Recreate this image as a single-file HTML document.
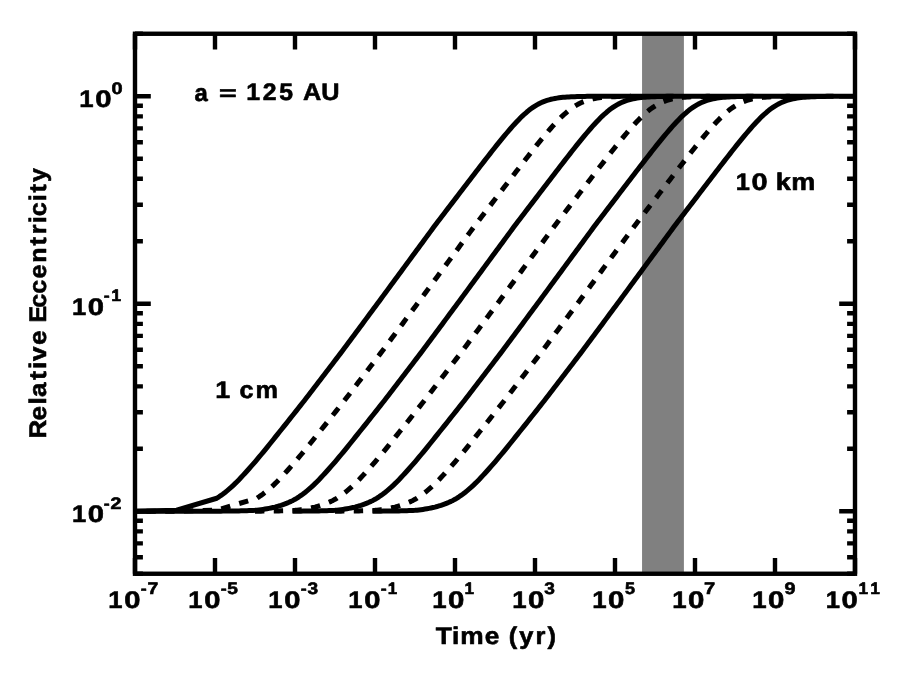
<!DOCTYPE html>
<html><head><meta charset="utf-8"><title>Relative Eccentricity vs Time</title>
<style>
html,body{margin:0;padding:0;background:#fff;}
body{width:900px;height:675px;overflow:hidden;font-family:"Liberation Sans",sans-serif;}
svg{display:block;position:absolute;left:0;top:0;will-change:transform;}
svg text{font-family:"Liberation Sans",sans-serif;font-weight:bold;fill:#000;stroke:#000;stroke-width:0.60px;stroke-linejoin:round;text-rendering:geometricPrecision;}
</style></head><body>
<svg width="900" height="675" viewBox="0 0 900 675" role="img" aria-label="Relative eccentricity versus time at a = 125 AU for particle sizes 1 cm to 10 km">
<rect x="0" y="0" width="900" height="675" fill="#fff"/>
<rect x="642.05" y="33.75" width="41.85" height="540.00" fill="#808080"/>
<defs><clipPath id="ax"><rect x="135.00" y="33.75" width="720.00" height="540.00"/></clipPath></defs>
<g fill="none" stroke="#000" stroke-width="5.00" stroke-linejoin="round" clip-path="url(#ax)">
<path d="M135.00 511.18 L176.66 510.19 L216.81 498.23 L219.00 496.81 L221.00 495.43 L223.00 493.97 L225.00 492.44 L227.00 490.83 L229.00 489.15 L231.00 487.40 L233.00 485.57 L235.00 483.66 L237.00 481.69 L239.00 479.66 L241.00 477.57 L243.00 475.42 L245.00 473.22 L247.00 470.98 L249.02 468.73 L251.06 466.44 L253.09 464.12 L255.12 461.76 L257.16 459.38 L259.19 456.96 L261.23 454.52 L263.26 452.06 L265.29 449.57 L267.33 447.07 L269.37 444.55 L271.40 442.01 L273.44 439.46 L275.47 436.89 L277.52 434.33 L279.57 431.78 L281.63 429.22 L283.69 426.65 L285.75 424.08 L287.81 421.49 L289.87 418.91 L291.93 416.31 L293.99 413.72 L296.05 411.12 L298.11 408.51 L300.17 405.90 L302.22 403.29 L304.28 400.68 L306.31 398.06 L308.32 395.44 L310.33 392.82 L312.34 390.20 L314.35 387.57 L316.36 384.95 L318.37 382.32 L320.38 379.69 L322.39 377.06 L324.40 374.44 L326.41 371.80 L328.42 369.17 L330.43 366.54 L332.44 363.91 L334.45 361.28 L336.47 358.64 L338.48 356.01 L340.49 353.38 L342.50 350.74 L344.47 348.11 L346.42 345.47 L348.37 342.84 L350.32 340.20 L352.28 337.57 L354.23 334.93 L356.18 332.30 L358.13 329.66 L360.09 327.03 L362.04 324.39 L363.99 321.75 L365.94 319.12 L367.90 316.48 L369.85 313.85 L371.80 311.21 L373.75 308.57 L375.71 305.94 L377.66 303.30 L379.61 300.67 L381.56 298.03 L383.50 295.39 L385.44 292.76 L387.38 290.12 L389.32 287.48 L391.26 284.85 L393.20 282.21 L395.14 279.57 L397.08 276.94 L399.02 274.30 L400.96 271.66 L402.90 269.03 L404.84 266.39 L406.78 263.75 L408.72 261.12 L410.66 258.48 L412.60 255.84 L414.54 253.21 L416.48 250.57 L418.42 247.93 L420.36 245.30 L422.30 242.66 L424.24 240.03 L426.18 237.39 L428.12 234.75 L430.06 232.12 L432.00 229.48 L433.94 226.84 L435.90 224.21 L437.92 221.57 L439.93 218.94 L441.95 216.30 L443.96 213.66 L445.97 211.03 L447.99 208.39 L450.00 205.76 L452.02 203.12 L454.03 200.49 L456.04 197.86 L458.06 195.22 L460.07 192.59 L462.09 189.96 L464.10 187.33 L466.11 184.70 L468.13 182.07 L470.14 179.44 L472.16 176.82 L474.17 174.19 L476.18 171.57 L478.20 168.95 L480.21 166.34 L482.23 163.73 L484.24 161.13 L486.25 158.53 L488.27 155.94 L490.28 153.35 L492.30 150.78 L494.33 148.22 L496.36 145.67 L498.40 143.14 L500.44 140.63 L502.47 138.15 L504.51 135.69 L506.55 133.26 L508.58 130.86 L510.62 128.51 L512.65 126.21 L514.68 123.96 L516.72 121.77 L518.75 119.65 L520.78 117.61 L522.80 115.65 L524.83 113.78 L526.85 112.01 L528.87 110.35 L530.89 108.80 L532.91 107.36 L534.92 106.04 L536.94 104.83 L538.95 103.74 L540.97 102.75 L542.98 101.88 L544.99 101.10 L546.99 100.41 L549.00 99.81 L551.00 99.29 L553.00 98.84 L555.00 98.44 L557.00 98.11 L559.00 97.82 L561.00 97.57 L563.00 97.36 L565.00 97.19 L567.00 97.04 L569.00 96.91 L571.00 96.80 L573.00 96.71 L575.00 96.63 L577.00 96.57 L579.00 96.51 L581.00 96.46 L583.00 96.43 L585.00 96.39 L587.00 96.37 L589.00 96.34 L591.00 96.32 L593.00 96.31 L595.00 96.29 L597.00 96.28 L599.00 96.27 L601.00 96.26 L603.00 96.26 L605.00 96.25 L607.00 96.25 L609.00 96.24 L611.00 96.24 L613.00 96.24 L615.00 96.23 L617.00 96.23 L619.00 96.23 L621.00 96.23 L623.00 96.23 L625.00 96.23 L627.00 96.23 L629.00 96.23 L631.00 96.23 L633.00 96.22 L635.00 96.22 L637.00 96.22 L639.00 96.22 L641.00 96.22 L643.00 96.22 L645.00 96.22 L647.00 96.22 L649.00 96.22 L651.00 96.22 L653.00 96.22 L655.00 96.22 L657.00 96.22 L659.00 96.22 L661.00 96.22 L663.00 96.22 L665.00 96.22 L667.00 96.22 L669.00 96.22 L671.00 96.22 L673.00 96.22 L675.00 96.22 L677.00 96.22 L679.00 96.22 L681.00 96.22 L683.00 96.22 L685.00 96.22 L687.00 96.22 L689.00 96.22 L691.00 96.22 L693.00 96.22 L695.00 96.22 L697.00 96.22 L699.00 96.22 L701.00 96.22 L703.00 96.22 L705.00 96.22 L707.00 96.22 L709.00 96.22 L711.00 96.22 L713.00 96.22 L715.00 96.22 L717.00 96.22 L719.00 96.22 L721.00 96.22 L723.00 96.22 L725.00 96.22 L727.00 96.22 L729.00 96.22 L731.00 96.22 L733.00 96.22 L735.00 96.22 L737.00 96.22 L739.00 96.22 L741.00 96.22 L743.00 96.22 L745.00 96.22 L747.00 96.22 L749.00 96.22 L751.00 96.22 L753.00 96.22 L755.00 96.22 L757.00 96.22 L759.00 96.22 L761.00 96.22 L763.00 96.22 L765.00 96.22 L767.00 96.22 L769.00 96.22 L771.00 96.22 L773.00 96.22 L775.00 96.22 L777.00 96.22 L779.00 96.22 L781.00 96.22 L783.00 96.22 L785.00 96.22 L787.00 96.22 L789.00 96.22 L791.00 96.22 L793.00 96.22 L795.00 96.22 L797.00 96.22 L799.00 96.22 L801.00 96.22 L803.00 96.22 L805.00 96.22 L807.00 96.22 L809.00 96.22 L811.00 96.22 L813.00 96.22 L815.00 96.22 L817.00 96.22 L819.00 96.22 L821.00 96.22 L823.00 96.22 L825.00 96.22 L827.00 96.22 L829.00 96.22 L831.00 96.22 L833.00 96.22 L835.00 96.22 L837.00 96.22 L839.00 96.22 L841.00 96.22 L843.00 96.22 L845.00 96.22 L847.00 96.22 L849.00 96.22 L851.00 96.22 L853.00 96.22 L855.00 96.22" stroke-linecap="square"/>
<path d="M135.00 511.27 L176.66 511.17 L216.81 510.17 L256.83 498.22 L259.00 496.81 L261.00 495.43 L263.00 493.97 L265.00 492.44 L267.00 490.83 L269.00 489.15 L271.00 487.40 L273.00 485.57 L275.00 483.66 L277.00 481.69 L279.00 479.66 L281.00 477.57 L283.00 475.42 L285.00 473.22 L287.00 470.98 L289.02 468.73 L291.06 466.44 L293.09 464.12 L295.12 461.76 L297.16 459.38 L299.19 456.96 L301.23 454.52 L303.26 452.06 L305.29 449.57 L307.33 447.07 L309.37 444.55 L311.40 442.01 L313.44 439.46 L315.47 436.89 L317.52 434.33 L319.57 431.78 L321.63 429.22 L323.69 426.65 L325.75 424.08 L327.81 421.49 L329.87 418.91 L331.93 416.31 L333.99 413.72 L336.05 411.12 L338.11 408.51 L340.17 405.90 L342.22 403.29 L344.28 400.68 L346.31 398.06 L348.32 395.44 L350.33 392.82 L352.34 390.20 L354.35 387.57 L356.36 384.95 L358.37 382.32 L360.38 379.69 L362.39 377.06 L364.40 374.44 L366.41 371.80 L368.42 369.17 L370.43 366.54 L372.44 363.91 L374.45 361.28 L376.47 358.64 L378.48 356.01 L380.49 353.38 L382.50 350.74 L384.47 348.11 L386.42 345.47 L388.37 342.84 L390.32 340.20 L392.28 337.57 L394.23 334.93 L396.18 332.30 L398.13 329.66 L400.09 327.03 L402.04 324.39 L403.99 321.75 L405.94 319.12 L407.90 316.48 L409.85 313.85 L411.80 311.21 L413.75 308.57 L415.71 305.94 L417.66 303.30 L419.61 300.67 L421.56 298.03 L423.50 295.39 L425.44 292.76 L427.38 290.12 L429.32 287.48 L431.26 284.85 L433.20 282.21 L435.14 279.57 L437.08 276.94 L439.02 274.30 L440.96 271.66 L442.90 269.03 L444.84 266.39 L446.78 263.75 L448.72 261.12 L450.66 258.48 L452.60 255.84 L454.54 253.21 L456.48 250.57 L458.42 247.93 L460.36 245.30 L462.30 242.66 L464.24 240.03 L466.18 237.39 L468.12 234.75 L470.06 232.12 L472.00 229.48 L473.94 226.84 L475.90 224.21 L477.92 221.57 L479.93 218.94 L481.95 216.30 L483.96 213.66 L485.97 211.03 L487.99 208.39 L490.00 205.76 L492.02 203.12 L494.03 200.49 L496.04 197.86 L498.06 195.22 L500.07 192.59 L502.09 189.96 L504.10 187.33 L506.11 184.70 L508.13 182.07 L510.14 179.44 L512.16 176.82 L514.17 174.19 L516.18 171.57 L518.20 168.95 L520.21 166.34 L522.23 163.73 L524.24 161.13 L526.25 158.53 L528.27 155.94 L530.28 153.35 L532.30 150.78 L534.33 148.22 L536.36 145.67 L538.40 143.14 L540.44 140.63 L542.47 138.15 L544.51 135.69 L546.55 133.26 L548.58 130.86 L550.62 128.51 L552.65 126.21 L554.68 123.96 L556.72 121.77 L558.75 119.65 L560.78 117.61 L562.80 115.65 L564.83 113.78 L566.85 112.01 L568.87 110.35 L570.89 108.80 L572.91 107.36 L574.92 106.04 L576.94 104.83 L578.95 103.74 L580.97 102.75 L582.98 101.88 L584.99 101.10 L586.99 100.41 L589.00 99.81 L591.00 99.29 L593.00 98.84 L595.00 98.44 L597.00 98.11 L599.00 97.82 L601.00 97.57 L603.00 97.36 L605.00 97.19 L607.00 97.04 L609.00 96.91 L611.00 96.80 L613.00 96.71 L615.00 96.63 L617.00 96.57 L619.00 96.51 L621.00 96.46 L623.00 96.43 L625.00 96.39 L627.00 96.37 L629.00 96.34 L631.00 96.32" stroke-dasharray="9.375 9.375" stroke-dashoffset="7.30" stroke-linecap="butt"/>
<path d="M135.00 511.28 L176.66 511.27 L216.81 511.17 L219.00 511.16 L221.00 511.14 L223.00 511.12 L225.00 511.10 L227.00 511.08 L229.00 511.06 L231.00 511.03 L233.00 511.00 L235.00 510.97 L237.00 510.93 L239.00 510.89 L241.00 510.85 L243.00 510.79 L245.00 510.74 L247.00 510.67 L249.00 510.60 L251.00 510.52 L253.00 510.43 L255.00 510.33 L257.00 510.15 L259.00 509.92 L261.00 509.67 L263.00 509.40 L265.00 509.09 L267.00 508.75 L269.00 508.39 L271.00 507.99 L273.00 507.55 L275.00 507.07 L277.00 506.54 L279.00 505.96 L281.00 505.34 L283.00 504.67 L285.00 503.94 L287.00 503.15 L289.00 502.29 L291.00 501.37 L293.00 500.39 L295.00 499.33 L297.00 498.11 L299.00 496.81 L301.00 495.43 L303.00 493.97 L305.00 492.44 L307.00 490.83 L309.00 489.15 L311.00 487.40 L313.00 485.57 L315.00 483.66 L317.00 481.69 L319.00 479.66 L321.00 477.57 L323.00 475.42 L325.00 473.22 L327.00 470.98 L329.02 468.73 L331.06 466.44 L333.09 464.12 L335.12 461.76 L337.16 459.38 L339.19 456.96 L341.23 454.52 L343.26 452.06 L345.29 449.57 L347.33 447.07 L349.37 444.55 L351.40 442.01 L353.44 439.46 L355.47 436.89 L357.52 434.33 L359.57 431.78 L361.63 429.22 L363.69 426.65 L365.75 424.08 L367.81 421.49 L369.87 418.91 L371.93 416.31 L373.99 413.72 L376.05 411.12 L378.11 408.51 L380.17 405.90 L382.22 403.29 L384.28 400.68 L386.31 398.06 L388.32 395.44 L390.33 392.82 L392.34 390.20 L394.35 387.57 L396.36 384.95 L398.37 382.32 L400.38 379.69 L402.39 377.06 L404.40 374.44 L406.41 371.80 L408.42 369.17 L410.43 366.54 L412.44 363.91 L414.45 361.28 L416.47 358.64 L418.48 356.01 L420.49 353.38 L422.50 350.74 L424.47 348.11 L426.42 345.47 L428.37 342.84 L430.32 340.20 L432.28 337.57 L434.23 334.93 L436.18 332.30 L438.13 329.66 L440.09 327.03 L442.04 324.39 L443.99 321.75 L445.94 319.12 L447.90 316.48 L449.85 313.85 L451.80 311.21 L453.75 308.57 L455.71 305.94 L457.66 303.30 L459.61 300.67 L461.56 298.03 L463.50 295.39 L465.44 292.76 L467.38 290.12 L469.32 287.48 L471.26 284.85 L473.20 282.21 L475.14 279.57 L477.08 276.94 L479.02 274.30 L480.96 271.66 L482.90 269.03 L484.84 266.39 L486.78 263.75 L488.72 261.12 L490.66 258.48 L492.60 255.84 L494.54 253.21 L496.48 250.57 L498.42 247.93 L500.36 245.30 L502.30 242.66 L504.24 240.03 L506.18 237.39 L508.12 234.75 L510.06 232.12 L512.00 229.48 L513.94 226.84 L515.90 224.21 L517.92 221.57 L519.93 218.94 L521.95 216.30 L523.96 213.66 L525.97 211.03 L527.99 208.39 L530.00 205.76 L532.02 203.12 L534.03 200.49 L536.04 197.86 L538.06 195.22 L540.07 192.59 L542.09 189.96 L544.10 187.33 L546.11 184.70 L548.13 182.07 L550.14 179.44 L552.16 176.82 L554.17 174.19 L556.18 171.57 L558.20 168.95 L560.21 166.34 L562.23 163.73 L564.24 161.13 L566.25 158.53 L568.27 155.94 L570.28 153.35 L572.30 150.78 L574.33 148.22 L576.36 145.67 L578.40 143.14 L580.44 140.63 L582.47 138.15 L584.51 135.69 L586.55 133.26 L588.58 130.86 L590.62 128.51 L592.65 126.21 L594.68 123.96 L596.72 121.77 L598.75 119.65 L600.78 117.61 L602.80 115.65 L604.83 113.78 L606.85 112.01 L608.87 110.35 L610.89 108.80 L612.91 107.36 L614.92 106.04 L616.94 104.83 L618.95 103.74 L620.97 102.75 L622.98 101.88 L624.99 101.10 L626.99 100.41 L629.00 99.81 L631.00 99.29 L633.00 98.84 L635.00 98.44 L637.00 98.11 L639.00 97.82 L641.00 97.57 L643.00 97.36 L645.00 97.19 L647.00 97.04 L649.00 96.91 L651.00 96.80 L653.00 96.71 L655.00 96.63 L657.00 96.57 L659.00 96.51 L661.00 96.46 L663.00 96.43 L665.00 96.39 L667.00 96.37 L669.00 96.34 L671.00 96.32" stroke-linecap="square"/>
<path d="M255.00 511.18 L257.00 511.17 L259.00 511.16 L261.00 511.14 L263.00 511.12 L265.00 511.10 L267.00 511.08 L269.00 511.06 L271.00 511.03 L273.00 511.00 L275.00 510.97 L277.00 510.93 L279.00 510.89 L281.00 510.85 L283.00 510.79 L285.00 510.74 L287.00 510.67 L289.00 510.60 L291.00 510.52 L293.00 510.43 L295.00 510.33 L297.00 510.15 L299.00 509.92 L301.00 509.67 L303.00 509.40 L305.00 509.09 L307.00 508.75 L309.00 508.39 L311.00 507.99 L313.00 507.55 L315.00 507.07 L317.00 506.54 L319.00 505.96 L321.00 505.34 L323.00 504.67 L325.00 503.94 L327.00 503.15 L329.00 502.29 L331.00 501.37 L333.00 500.39 L335.00 499.33 L337.00 498.11 L339.00 496.81 L341.00 495.43 L343.00 493.97 L345.00 492.44 L347.00 490.83 L349.00 489.15 L351.00 487.40 L353.00 485.57 L355.00 483.66 L357.00 481.69 L359.00 479.66 L361.00 477.57 L363.00 475.42 L365.00 473.22 L367.00 470.98 L369.02 468.73 L371.06 466.44 L373.09 464.12 L375.12 461.76 L377.16 459.38 L379.19 456.96 L381.23 454.52 L383.26 452.06 L385.29 449.57 L387.33 447.07 L389.37 444.55 L391.40 442.01 L393.44 439.46 L395.47 436.89 L397.52 434.33 L399.57 431.78 L401.63 429.22 L403.69 426.65 L405.75 424.08 L407.81 421.49 L409.87 418.91 L411.93 416.31 L413.99 413.72 L416.05 411.12 L418.11 408.51 L420.17 405.90 L422.22 403.29 L424.28 400.68 L426.31 398.06 L428.32 395.44 L430.33 392.82 L432.34 390.20 L434.35 387.57 L436.36 384.95 L438.37 382.32 L440.38 379.69 L442.39 377.06 L444.40 374.44 L446.41 371.80 L448.42 369.17 L450.43 366.54 L452.44 363.91 L454.45 361.28 L456.47 358.64 L458.48 356.01 L460.49 353.38 L462.50 350.74 L464.47 348.11 L466.42 345.47 L468.37 342.84 L470.32 340.20 L472.28 337.57 L474.23 334.93 L476.18 332.30 L478.13 329.66 L480.09 327.03 L482.04 324.39 L483.99 321.75 L485.94 319.12 L487.90 316.48 L489.85 313.85 L491.80 311.21 L493.75 308.57 L495.71 305.94 L497.66 303.30 L499.61 300.67 L501.56 298.03 L503.50 295.39 L505.44 292.76 L507.38 290.12 L509.32 287.48 L511.26 284.85 L513.20 282.21 L515.14 279.57 L517.08 276.94 L519.02 274.30 L520.96 271.66 L522.90 269.03 L524.84 266.39 L526.78 263.75 L528.72 261.12 L530.66 258.48 L532.60 255.84 L534.54 253.21 L536.48 250.57 L538.42 247.93 L540.36 245.30 L542.30 242.66 L544.24 240.03 L546.18 237.39 L548.12 234.75 L550.06 232.12 L552.00 229.48 L553.94 226.84 L555.90 224.21 L557.92 221.57 L559.93 218.94 L561.95 216.30 L563.96 213.66 L565.97 211.03 L567.99 208.39 L570.00 205.76 L572.02 203.12 L574.03 200.49 L576.04 197.86 L578.06 195.22 L580.07 192.59 L582.09 189.96 L584.10 187.33 L586.11 184.70 L588.13 182.07 L590.14 179.44 L592.16 176.82 L594.17 174.19 L596.18 171.57 L598.20 168.95 L600.21 166.34 L602.23 163.73 L604.24 161.13 L606.25 158.53 L608.27 155.94 L610.28 153.35 L612.30 150.78 L614.33 148.22 L616.36 145.67 L618.40 143.14 L620.44 140.63 L622.47 138.15 L624.51 135.69 L626.55 133.26 L628.58 130.86 L630.62 128.51 L632.65 126.21 L634.68 123.96 L636.72 121.77 L638.75 119.65 L640.78 117.61 L642.80 115.65 L644.83 113.78 L646.85 112.01 L648.87 110.35 L650.89 108.80 L652.91 107.36 L654.92 106.04 L656.94 104.83 L658.95 103.74 L660.97 102.75 L662.98 101.88 L664.99 101.10 L666.99 100.41 L669.00 99.81 L671.00 99.29 L673.00 98.84 L675.00 98.44 L677.00 98.11 L679.00 97.82 L681.00 97.57 L683.00 97.36 L685.00 97.19 L687.00 97.04 L689.00 96.91 L691.00 96.80 L693.00 96.71 L695.00 96.63 L697.00 96.57 L699.00 96.51 L701.00 96.46 L703.00 96.43 L705.00 96.39 L707.00 96.37 L709.00 96.34 L711.00 96.32" stroke-dasharray="9.375 9.375" stroke-dashoffset="0.00" stroke-linecap="butt"/>
<path d="M295.00 511.18 L297.00 511.17 L299.00 511.16 L301.00 511.14 L303.00 511.12 L305.00 511.10 L307.00 511.08 L309.00 511.06 L311.00 511.03 L313.00 511.00 L315.00 510.97 L317.00 510.93 L319.00 510.89 L321.00 510.85 L323.00 510.79 L325.00 510.74 L327.00 510.67 L329.00 510.60 L331.00 510.52 L333.00 510.43 L335.00 510.33 L337.00 510.15 L339.00 509.92 L341.00 509.67 L343.00 509.40 L345.00 509.09 L347.00 508.75 L349.00 508.39 L351.00 507.99 L353.00 507.55 L355.00 507.07 L357.00 506.54 L359.00 505.96 L361.00 505.34 L363.00 504.67 L365.00 503.94 L367.00 503.15 L369.00 502.29 L371.00 501.37 L373.00 500.39 L375.00 499.33 L377.00 498.11 L379.00 496.81 L381.00 495.43 L383.00 493.97 L385.00 492.44 L387.00 490.83 L389.00 489.15 L391.00 487.40 L393.00 485.57 L395.00 483.66 L397.00 481.69 L399.00 479.66 L401.00 477.57 L403.00 475.42 L405.00 473.22 L407.00 470.98 L409.02 468.73 L411.06 466.44 L413.09 464.12 L415.12 461.76 L417.16 459.38 L419.19 456.96 L421.23 454.52 L423.26 452.06 L425.29 449.57 L427.33 447.07 L429.37 444.55 L431.40 442.01 L433.44 439.46 L435.47 436.89 L437.52 434.33 L439.57 431.78 L441.63 429.22 L443.69 426.65 L445.75 424.08 L447.81 421.49 L449.87 418.91 L451.93 416.31 L453.99 413.72 L456.05 411.12 L458.11 408.51 L460.17 405.90 L462.22 403.29 L464.28 400.68 L466.31 398.06 L468.32 395.44 L470.33 392.82 L472.34 390.20 L474.35 387.57 L476.36 384.95 L478.37 382.32 L480.38 379.69 L482.39 377.06 L484.40 374.44 L486.41 371.80 L488.42 369.17 L490.43 366.54 L492.44 363.91 L494.45 361.28 L496.47 358.64 L498.48 356.01 L500.49 353.38 L502.50 350.74 L504.47 348.11 L506.42 345.47 L508.37 342.84 L510.32 340.20 L512.28 337.57 L514.23 334.93 L516.18 332.30 L518.13 329.66 L520.09 327.03 L522.04 324.39 L523.99 321.75 L525.94 319.12 L527.90 316.48 L529.85 313.85 L531.80 311.21 L533.75 308.57 L535.71 305.94 L537.66 303.30 L539.61 300.67 L541.56 298.03 L543.50 295.39 L545.44 292.76 L547.38 290.12 L549.32 287.48 L551.26 284.85 L553.20 282.21 L555.14 279.57 L557.08 276.94 L559.02 274.30 L560.96 271.66 L562.90 269.03 L564.84 266.39 L566.78 263.75 L568.72 261.12 L570.66 258.48 L572.60 255.84 L574.54 253.21 L576.48 250.57 L578.42 247.93 L580.36 245.30 L582.30 242.66 L584.24 240.03 L586.18 237.39 L588.12 234.75 L590.06 232.12 L592.00 229.48 L593.94 226.84 L595.90 224.21 L597.92 221.57 L599.93 218.94 L601.95 216.30 L603.96 213.66 L605.97 211.03 L607.99 208.39 L610.00 205.76 L612.02 203.12 L614.03 200.49 L616.04 197.86 L618.06 195.22 L620.07 192.59 L622.09 189.96 L624.10 187.33 L626.11 184.70 L628.13 182.07 L630.14 179.44 L632.16 176.82 L634.17 174.19 L636.18 171.57 L638.20 168.95 L640.21 166.34 L642.23 163.73 L644.24 161.13 L646.25 158.53 L648.27 155.94 L650.28 153.35 L652.30 150.78 L654.33 148.22 L656.36 145.67 L658.40 143.14 L660.44 140.63 L662.47 138.15 L664.51 135.69 L666.55 133.26 L668.58 130.86 L670.62 128.51 L672.65 126.21 L674.68 123.96 L676.72 121.77 L678.75 119.65 L680.78 117.61 L682.80 115.65 L684.83 113.78 L686.85 112.01 L688.87 110.35 L690.89 108.80 L692.91 107.36 L694.92 106.04 L696.94 104.83 L698.95 103.74 L700.97 102.75 L702.98 101.88 L704.99 101.10 L706.99 100.41 L709.00 99.81 L711.00 99.29 L713.00 98.84 L715.00 98.44 L717.00 98.11 L719.00 97.82 L721.00 97.57 L723.00 97.36 L725.00 97.19 L727.00 97.04 L729.00 96.91 L731.00 96.80 L733.00 96.71 L735.00 96.63 L737.00 96.57 L739.00 96.51 L741.00 96.46 L743.00 96.43 L745.00 96.39 L747.00 96.37 L749.00 96.34 L751.00 96.32" stroke-linecap="square"/>
<path d="M335.00 511.18 L337.00 511.17 L339.00 511.16 L341.00 511.14 L343.00 511.12 L345.00 511.10 L347.00 511.08 L349.00 511.06 L351.00 511.03 L353.00 511.00 L355.00 510.97 L357.00 510.93 L359.00 510.89 L361.00 510.85 L363.00 510.79 L365.00 510.74 L367.00 510.67 L369.00 510.60 L371.00 510.52 L373.00 510.43 L375.00 510.33 L377.00 510.15 L379.00 509.92 L381.00 509.67 L383.00 509.40 L385.00 509.09 L387.00 508.75 L389.00 508.39 L391.00 507.99 L393.00 507.55 L395.00 507.07 L397.00 506.54 L399.00 505.96 L401.00 505.34 L403.00 504.67 L405.00 503.94 L407.00 503.15 L409.00 502.29 L411.00 501.37 L413.00 500.39 L415.00 499.33 L417.00 498.11 L419.00 496.81 L421.00 495.43 L423.00 493.97 L425.00 492.44 L427.00 490.83 L429.00 489.15 L431.00 487.40 L433.00 485.57 L435.00 483.66 L437.00 481.69 L439.00 479.66 L441.00 477.57 L443.00 475.42 L445.00 473.22 L447.00 470.98 L449.02 468.73 L451.06 466.44 L453.09 464.12 L455.12 461.76 L457.16 459.38 L459.19 456.96 L461.23 454.52 L463.26 452.06 L465.29 449.57 L467.33 447.07 L469.37 444.55 L471.40 442.01 L473.44 439.46 L475.47 436.89 L477.52 434.33 L479.57 431.78 L481.63 429.22 L483.69 426.65 L485.75 424.08 L487.81 421.49 L489.87 418.91 L491.93 416.31 L493.99 413.72 L496.05 411.12 L498.11 408.51 L500.17 405.90 L502.22 403.29 L504.28 400.68 L506.31 398.06 L508.32 395.44 L510.33 392.82 L512.34 390.20 L514.35 387.57 L516.36 384.95 L518.37 382.32 L520.38 379.69 L522.39 377.06 L524.40 374.44 L526.41 371.80 L528.42 369.17 L530.43 366.54 L532.44 363.91 L534.45 361.28 L536.47 358.64 L538.48 356.01 L540.49 353.38 L542.50 350.74 L544.47 348.11 L546.42 345.47 L548.37 342.84 L550.32 340.20 L552.28 337.57 L554.23 334.93 L556.18 332.30 L558.13 329.66 L560.09 327.03 L562.04 324.39 L563.99 321.75 L565.94 319.12 L567.90 316.48 L569.85 313.85 L571.80 311.21 L573.75 308.57 L575.71 305.94 L577.66 303.30 L579.61 300.67 L581.56 298.03 L583.50 295.39 L585.44 292.76 L587.38 290.12 L589.32 287.48 L591.26 284.85 L593.20 282.21 L595.14 279.57 L597.08 276.94 L599.02 274.30 L600.96 271.66 L602.90 269.03 L604.84 266.39 L606.78 263.75 L608.72 261.12 L610.66 258.48 L612.60 255.84 L614.54 253.21 L616.48 250.57 L618.42 247.93 L620.36 245.30 L622.30 242.66 L624.24 240.03 L626.18 237.39 L628.12 234.75 L630.06 232.12 L632.00 229.48 L633.94 226.84 L635.90 224.21 L637.92 221.57 L639.93 218.94 L641.95 216.30 L643.96 213.66 L645.97 211.03 L647.99 208.39 L650.00 205.76 L652.02 203.12 L654.03 200.49 L656.04 197.86 L658.06 195.22 L660.07 192.59 L662.09 189.96 L664.10 187.33 L666.11 184.70 L668.13 182.07 L670.14 179.44 L672.16 176.82 L674.17 174.19 L676.18 171.57 L678.20 168.95 L680.21 166.34 L682.23 163.73 L684.24 161.13 L686.25 158.53 L688.27 155.94 L690.28 153.35 L692.30 150.78 L694.33 148.22 L696.36 145.67 L698.40 143.14 L700.44 140.63 L702.47 138.15 L704.51 135.69 L706.55 133.26 L708.58 130.86 L710.62 128.51 L712.65 126.21 L714.68 123.96 L716.72 121.77 L718.75 119.65 L720.78 117.61 L722.80 115.65 L724.83 113.78 L726.85 112.01 L728.87 110.35 L730.89 108.80 L732.91 107.36 L734.92 106.04 L736.94 104.83 L738.95 103.74 L740.97 102.75 L742.98 101.88 L744.99 101.10 L746.99 100.41 L749.00 99.81 L751.00 99.29 L753.00 98.84 L755.00 98.44 L757.00 98.11 L759.00 97.82 L761.00 97.57 L763.00 97.36 L765.00 97.19 L767.00 97.04 L769.00 96.91 L771.00 96.80 L773.00 96.71 L775.00 96.63 L777.00 96.57 L779.00 96.51 L781.00 96.46 L783.00 96.43 L785.00 96.39 L787.00 96.37 L789.00 96.34 L791.00 96.32" stroke-dasharray="9.375 9.375" stroke-dashoffset="0.00" stroke-linecap="butt"/>
<path d="M375.00 511.18 L377.00 511.17 L379.00 511.16 L381.00 511.14 L383.00 511.12 L385.00 511.10 L387.00 511.08 L389.00 511.06 L391.00 511.03 L393.00 511.00 L395.00 510.97 L397.00 510.93 L399.00 510.89 L401.00 510.85 L403.00 510.79 L405.00 510.74 L407.00 510.67 L409.00 510.60 L411.00 510.52 L413.00 510.43 L415.00 510.33 L417.00 510.15 L419.00 509.92 L421.00 509.67 L423.00 509.40 L425.00 509.09 L427.00 508.75 L429.00 508.39 L431.00 507.99 L433.00 507.55 L435.00 507.07 L437.00 506.54 L439.00 505.96 L441.00 505.34 L443.00 504.67 L445.00 503.94 L447.00 503.15 L449.00 502.29 L451.00 501.37 L453.00 500.39 L455.00 499.33 L457.00 498.11 L459.00 496.81 L461.00 495.43 L463.00 493.97 L465.00 492.44 L467.00 490.83 L469.00 489.15 L471.00 487.40 L473.00 485.57 L475.00 483.66 L477.00 481.69 L479.00 479.66 L481.00 477.57 L483.00 475.42 L485.00 473.22 L487.00 470.98 L489.02 468.73 L491.06 466.44 L493.09 464.12 L495.12 461.76 L497.16 459.38 L499.19 456.96 L501.23 454.52 L503.26 452.06 L505.29 449.57 L507.33 447.07 L509.37 444.55 L511.40 442.01 L513.44 439.46 L515.47 436.89 L517.52 434.33 L519.57 431.78 L521.63 429.22 L523.69 426.65 L525.75 424.08 L527.81 421.49 L529.87 418.91 L531.93 416.31 L533.99 413.72 L536.05 411.12 L538.11 408.51 L540.17 405.90 L542.22 403.29 L544.28 400.68 L546.31 398.06 L548.32 395.44 L550.33 392.82 L552.34 390.20 L554.35 387.57 L556.36 384.95 L558.37 382.32 L560.38 379.69 L562.39 377.06 L564.40 374.44 L566.41 371.80 L568.42 369.17 L570.43 366.54 L572.44 363.91 L574.45 361.28 L576.47 358.64 L578.48 356.01 L580.49 353.38 L582.50 350.74 L584.47 348.11 L586.42 345.47 L588.37 342.84 L590.32 340.20 L592.28 337.57 L594.23 334.93 L596.18 332.30 L598.13 329.66 L600.09 327.03 L602.04 324.39 L603.99 321.75 L605.94 319.12 L607.90 316.48 L609.85 313.85 L611.80 311.21 L613.75 308.57 L615.71 305.94 L617.66 303.30 L619.61 300.67 L621.56 298.03 L623.50 295.39 L625.44 292.76 L627.38 290.12 L629.32 287.48 L631.26 284.85 L633.20 282.21 L635.14 279.57 L637.08 276.94 L639.02 274.30 L640.96 271.66 L642.90 269.03 L644.84 266.39 L646.78 263.75 L648.72 261.12 L650.66 258.48 L652.60 255.84 L654.54 253.21 L656.48 250.57 L658.42 247.93 L660.36 245.30 L662.30 242.66 L664.24 240.03 L666.18 237.39 L668.12 234.75 L670.06 232.12 L672.00 229.48 L673.94 226.84 L675.90 224.21 L677.92 221.57 L679.93 218.94 L681.95 216.30 L683.96 213.66 L685.97 211.03 L687.99 208.39 L690.00 205.76 L692.02 203.12 L694.03 200.49 L696.04 197.86 L698.06 195.22 L700.07 192.59 L702.09 189.96 L704.10 187.33 L706.11 184.70 L708.13 182.07 L710.14 179.44 L712.16 176.82 L714.17 174.19 L716.18 171.57 L718.20 168.95 L720.21 166.34 L722.23 163.73 L724.24 161.13 L726.25 158.53 L728.27 155.94 L730.28 153.35 L732.30 150.78 L734.33 148.22 L736.36 145.67 L738.40 143.14 L740.44 140.63 L742.47 138.15 L744.51 135.69 L746.55 133.26 L748.58 130.86 L750.62 128.51 L752.65 126.21 L754.68 123.96 L756.72 121.77 L758.75 119.65 L760.78 117.61 L762.80 115.65 L764.83 113.78 L766.85 112.01 L768.87 110.35 L770.89 108.80 L772.91 107.36 L774.92 106.04 L776.94 104.83 L778.95 103.74 L780.97 102.75 L782.98 101.88 L784.99 101.10 L786.99 100.41 L789.00 99.81 L791.00 99.29 L793.00 98.84 L795.00 98.44 L797.00 98.11 L799.00 97.82 L801.00 97.57 L803.00 97.36 L805.00 97.19 L807.00 97.04 L809.00 96.91 L811.00 96.80 L813.00 96.71 L815.00 96.63 L817.00 96.57 L819.00 96.51 L821.00 96.46 L823.00 96.43 L825.00 96.39 L827.00 96.37 L829.00 96.34 L831.00 96.32" stroke-linecap="square"/>
</g>
<g stroke="#000" stroke-width="4.40" stroke-linecap="butt">
<path d="M135.00 573.75 v-15.80 M135.00 33.75 v15.80"/>
<path d="M215.00 573.75 v-15.80 M215.00 33.75 v15.80"/>
<path d="M295.00 573.75 v-15.80 M295.00 33.75 v15.80"/>
<path d="M375.00 573.75 v-15.80 M375.00 33.75 v15.80"/>
<path d="M455.00 573.75 v-15.80 M455.00 33.75 v15.80"/>
<path d="M535.00 573.75 v-15.80 M535.00 33.75 v15.80"/>
<path d="M615.00 573.75 v-15.80 M615.00 33.75 v15.80"/>
<path d="M695.00 573.75 v-15.80 M695.00 33.75 v15.80"/>
<path d="M775.00 573.75 v-15.80 M775.00 33.75 v15.80"/>
<path d="M855.00 573.75 v-15.80 M855.00 33.75 v15.80"/>
<path d="M135.00 96.22 h15.80 M855.00 96.22 h-15.80"/>
<path d="M135.00 303.75 h15.80 M855.00 303.75 h-15.80"/>
<path d="M135.00 511.28 h15.80 M855.00 511.28 h-15.80"/>
<path d="M135.00 33.75 h7.90 M855.00 33.75 h-7.90"/>
<path d="M135.00 241.28 h7.90 M855.00 241.28 h-7.90"/>
<path d="M135.00 204.73 h7.90 M855.00 204.73 h-7.90"/>
<path d="M135.00 178.81 h7.90 M855.00 178.81 h-7.90"/>
<path d="M135.00 158.69 h7.90 M855.00 158.69 h-7.90"/>
<path d="M135.00 142.26 h7.90 M855.00 142.26 h-7.90"/>
<path d="M135.00 128.37 h7.90 M855.00 128.37 h-7.90"/>
<path d="M135.00 116.33 h7.90 M855.00 116.33 h-7.90"/>
<path d="M135.00 105.72 h7.90 M855.00 105.72 h-7.90"/>
<path d="M135.00 448.81 h7.90 M855.00 448.81 h-7.90"/>
<path d="M135.00 412.26 h7.90 M855.00 412.26 h-7.90"/>
<path d="M135.00 386.33 h7.90 M855.00 386.33 h-7.90"/>
<path d="M135.00 366.22 h7.90 M855.00 366.22 h-7.90"/>
<path d="M135.00 349.79 h7.90 M855.00 349.79 h-7.90"/>
<path d="M135.00 335.90 h7.90 M855.00 335.90 h-7.90"/>
<path d="M135.00 323.86 h7.90 M855.00 323.86 h-7.90"/>
<path d="M135.00 313.25 h7.90 M855.00 313.25 h-7.90"/>
<path d="M135.00 573.75 h7.90 M855.00 573.75 h-7.90"/>
<path d="M135.00 557.32 h7.90 M855.00 557.32 h-7.90"/>
<path d="M135.00 543.42 h7.90 M855.00 543.42 h-7.90"/>
<path d="M135.00 531.39 h7.90 M855.00 531.39 h-7.90"/>
<path d="M135.00 520.77 h7.90 M855.00 520.77 h-7.90"/>
</g>
<rect x="135.00" y="33.75" width="720.00" height="540.00" fill="none" stroke="#000" stroke-width="4.4" stroke-linejoin="miter"/>
<g>
<text font-size="24.00" transform="translate(0 608.00) scale(1.1500 1)" y="0"><tspan x="94.24" textLength="12.37" lengthAdjust="spacingAndGlyphs">1</tspan><tspan x="108.00" textLength="14.12" lengthAdjust="spacingAndGlyphs">0</tspan></text>
<text font-size="16.58" transform="translate(0 594.05) scale(1.0717 1.0000)" x="131.27" y="0">-</text>
<text font-size="16.58" transform="translate(0 594.30) scale(1.1676 1.0000)" x="126.35" y="0">7</text>
</g>
<g>
<text font-size="24.00" transform="translate(0 608.00) scale(1.1500 1)" y="0"><tspan x="163.80" textLength="12.37" lengthAdjust="spacingAndGlyphs">1</tspan><tspan x="177.56" textLength="14.12" lengthAdjust="spacingAndGlyphs">0</tspan></text>
<text font-size="16.58" transform="translate(0 594.05) scale(1.0717 1.0000)" x="205.92" y="0">-</text>
<text font-size="16.58" transform="translate(0 594.30) scale(1.1526 1.0000)" x="197.27" y="0">5</text>
</g>
<g>
<text font-size="24.00" transform="translate(0 608.00) scale(1.1500 1)" y="0"><tspan x="233.37" textLength="12.37" lengthAdjust="spacingAndGlyphs">1</tspan><tspan x="247.13" textLength="14.12" lengthAdjust="spacingAndGlyphs">0</tspan></text>
<text font-size="16.58" transform="translate(0 594.05) scale(1.0717 1.0000)" x="280.57" y="0">-</text>
<text font-size="16.58" transform="translate(0 594.30) scale(1.1526 1.0000)" x="266.80" y="0">3</text>
</g>
<g>
<text font-size="24.00" transform="translate(0 608.00) scale(1.1500 1)" y="0"><tspan x="302.93" textLength="12.37" lengthAdjust="spacingAndGlyphs">1</tspan><tspan x="316.69" textLength="14.12" lengthAdjust="spacingAndGlyphs">0</tspan></text>
<text font-size="16.58" transform="translate(0 594.05) scale(1.0717 1.0000)" x="355.22" y="0">-</text>
<text font-size="16.58" transform="translate(0 594.30) scale(1.0228 1.0000)" x="379.01" y="0">1</text>
</g>
<g>
<text font-size="24.00" transform="translate(0 608.00) scale(1.1500 1)" y="0"><tspan x="375.79" textLength="12.47" lengthAdjust="spacingAndGlyphs">1</tspan><tspan x="389.67" textLength="14.24" lengthAdjust="spacingAndGlyphs">0</tspan></text>
<text font-size="16.58" transform="translate(0 594.30) scale(1.0348 1.0000)" x="448.90" y="0">1</text>
</g>
<g>
<text font-size="24.00" transform="translate(0 608.00) scale(1.1500 1)" y="0"><tspan x="445.36" textLength="12.47" lengthAdjust="spacingAndGlyphs">1</tspan><tspan x="459.23" textLength="14.24" lengthAdjust="spacingAndGlyphs">0</tspan></text>
<text font-size="16.58" transform="translate(0 594.30) scale(1.1526 1.0000)" x="472.24" y="0">3</text>
</g>
<g>
<text font-size="24.00" transform="translate(0 608.00) scale(1.1500 1)" y="0"><tspan x="514.92" textLength="12.47" lengthAdjust="spacingAndGlyphs">1</tspan><tspan x="528.80" textLength="14.24" lengthAdjust="spacingAndGlyphs">0</tspan></text>
<text font-size="16.58" transform="translate(0 594.30) scale(1.0848 1.0000)" x="576.12" y="0">5</text>
</g>
<g>
<text font-size="24.00" transform="translate(0 608.00) scale(1.1500 1)" y="0"><tspan x="584.49" textLength="12.47" lengthAdjust="spacingAndGlyphs">1</tspan><tspan x="598.36" textLength="14.24" lengthAdjust="spacingAndGlyphs">0</tspan></text>
<text font-size="16.58" transform="translate(0 594.30) scale(1.2152 1.0000)" x="579.24" y="0">7</text>
</g>
<g>
<text font-size="24.00" transform="translate(0 608.00) scale(1.1500 1)" y="0"><tspan x="654.05" textLength="12.47" lengthAdjust="spacingAndGlyphs">1</tspan><tspan x="667.93" textLength="14.24" lengthAdjust="spacingAndGlyphs">0</tspan></text>
<text font-size="16.58" transform="translate(0 594.30) scale(1.1918 1.0000)" x="658.20" y="0">9</text>
</g>
<g>
<text font-size="24.00" transform="translate(0 608.00) scale(1.1500 1)" y="0"><tspan x="718.02" textLength="12.37" lengthAdjust="spacingAndGlyphs">1</tspan><tspan x="731.78" textLength="14.12" lengthAdjust="spacingAndGlyphs">0</tspan></text>
<text font-size="16.58" transform="translate(0 594.30) scale(1.1500 1)" y="0"><tspan x="746.46" textLength="8.37" lengthAdjust="spacingAndGlyphs">1</tspan><tspan x="756.66" textLength="8.37" lengthAdjust="spacingAndGlyphs">1</tspan></text>
</g>
<g>
<text font-size="24.00" transform="translate(0 107.10) scale(1.1500 1)" y="0"><tspan x="68.97" textLength="12.43" lengthAdjust="spacingAndGlyphs">1</tspan><tspan x="82.80" textLength="14.19" lengthAdjust="spacingAndGlyphs">0</tspan></text>
<text font-size="16.58" transform="translate(0 93.90) scale(1.2033 1.0000)" x="92.71" y="0">0</text>
</g>
<g>
<text font-size="24.00" transform="translate(0 314.70) scale(1.1500 1)" y="0"><tspan x="62.51" textLength="12.36" lengthAdjust="spacingAndGlyphs">1</tspan><tspan x="76.26" textLength="14.12" lengthAdjust="spacingAndGlyphs">0</tspan></text>
<text font-size="16.58" transform="translate(0 300.90) scale(1.0654 1.0000)" x="97.44" y="0">-</text>
<text font-size="16.58" transform="translate(0 301.15) scale(1.0709 1.0000)" x="103.85" y="0">1</text>
</g>
<g>
<text font-size="24.00" transform="translate(0 522.10) scale(1.1500 1)" y="0"><tspan x="62.51" textLength="12.36" lengthAdjust="spacingAndGlyphs">1</tspan><tspan x="76.26" textLength="14.12" lengthAdjust="spacingAndGlyphs">0</tspan></text>
<text font-size="16.58" transform="translate(0 508.50) scale(1.0654 1.0000)" x="97.44" y="0">-</text>
<text font-size="16.58" transform="translate(0 508.90) scale(1.1800 1.0000)" x="93.62" y="0">2</text>
</g>
<g>
<text font-size="24.00" transform="translate(0 643.90) scale(1.0944 1.0000)" x="398.08 412.94 420.45 443.01" y="0">Time</text>
<text font-size="24.00" transform="translate(0 643.90) scale(1.0584 1.0000)" x="480.79 490.68 506.02 517.22" y="0">(yr)</text>
</g>
<g transform="translate(46.65 437.1) rotate(-90)">
<text font-size="24.00" transform="translate(0 -0.30) scale(1.0837 1.0000)" x="-1.32 15.40 30.07 36.97 52.98 62.75 70.24 84.97" y="0">Relative</text>
<text font-size="24.00" transform="translate(0 -0.30) scale(1.0429 1.0000)" x="109.91 124.11 137.46 152.06 167.24 183.82 194.51 204.97 211.72 226.05 234.49 244.72" y="0">Eccentricity</text>
</g>
<g>
<text font-size="24.00" transform="translate(0 100.55) scale(0.9940 1.0000)" x="195.75" y="0">a</text>
<text font-size="24.00" transform="translate(0 100.05) scale(1.2619 0.8644)" x="173.62" y="0">=</text>
<text font-size="24.00" transform="translate(0 100.45) scale(1.1500 1)" y="0"><tspan x="214.22" textLength="12.01" lengthAdjust="spacingAndGlyphs">1</tspan><tspan x="228.45" textLength="12.00" lengthAdjust="spacingAndGlyphs">2</tspan><tspan x="242.81" textLength="11.98" lengthAdjust="spacingAndGlyphs">5</tspan></text>
<text font-size="24.00" transform="translate(0 100.45) scale(1.0531 1.0000)" x="287.61 305.00" y="0">AU</text>
</g>
<g>
<text font-size="24.00" transform="translate(0 397.65) scale(1.1139 1.0000)" x="193.33" y="0">1</text>
<text font-size="24.00" transform="translate(0 397.65) scale(1.0537 1.0000)" x="227.31 242.45" y="0">cm</text>
</g>
<g>
<text font-size="24.00" transform="translate(0 189.90) scale(1.1500 1)" y="0"><tspan x="639.77" textLength="12.27" lengthAdjust="spacingAndGlyphs">1</tspan><tspan x="653.41" textLength="14.00" lengthAdjust="spacingAndGlyphs">0</tspan></text>
<text font-size="24.00" transform="translate(0 189.90) scale(1.1267 1.0000)" x="688.43 702.22" y="0">km</text>
</g>
</svg>
</body></html>
